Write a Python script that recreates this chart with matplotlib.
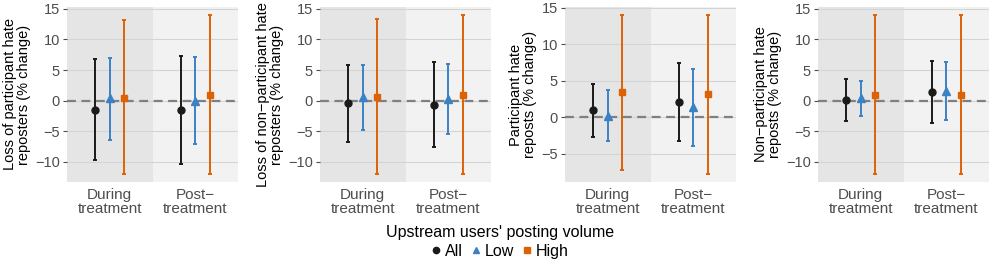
import numpy as np
import matplotlib.pyplot as plt
from matplotlib.lines import Line2D

plt.rcParams['font.family'] = ['Liberation Sans', 'DejaVu Sans']

periods = ["During\ntreatment", "Post\u2212\ntreatment"]
groups = ["All", "Low", "High"]
ylabels = [
    "Loss of participant hate\nreposters (% change)",
    "Loss of non\u2212participant hate\nreposters (% change)",
    "Participant hate\nreposts (% change)",
    "Non\u2212participant hate\nreposts (% change)",
]

# estimates [panel][group][period]
est = [
    [[-1.5, -1.5], [0.45, 0.0], [0.5, 1.0]],
    [[-0.4, -0.7], [0.55, 0.3], [0.6, 1.0]],
    [[1.0, 2.1], [0.2, 1.35], [3.5, 3.15]],
    [[0.1, 1.4], [0.45, 1.65], [0.95, 0.95]],
]
lower = [
    [[-9.7, -10.3], [-6.4, -7.1], [-12.0, -12.0]],
    [[-6.7, -7.5], [-4.8, -5.4], [-12.0, -12.0]],
    [[-2.7, -3.3], [-3.3, -4.0], [-7.2, -7.8]],
    [[-3.3, -3.6], [-2.5, -3.2], [-12.0, -12.0]],
]
upper = [
    [[6.8, 7.3], [7.0, 7.1], [13.1, 14.0]],
    [[5.9, 6.3], [5.9, 6.0], [13.3, 14.0]],
    [[4.6, 7.4], [3.7, 6.6], [14.0, 14.0]],
    [[3.6, 6.4], [3.2, 6.3], [14.0, 14.0]],
]

colors = ["#1a1a1a", "#3b82c4", "#dd6205"]
markers = ["o", "^", "s"]
msizes = [5, 5.5, 5]
offsets = [-0.167, 0.0, 0.167]
yticks = [[-10, -5, 0, 5, 10, 15]] * 2 + [[-5, 0, 5, 10, 15]] + [[-10, -5, 0, 5, 10, 15]]

W, H = 996, 270
fig = plt.figure(figsize=(W / 100, H / 100), dpi=100)
lefts = [67, 320, 565, 818]
width = 171
top, bottom = 7, 182

for p in range(4):
    ax = fig.add_axes([lefts[p] / W, 1 - bottom / H, width / W, (bottom - top) / H])
    ax.axvspan(0.5, 1.5, color="#e5e5e5", zorder=0, lw=0)
    ax.axvspan(1.5, 2.5, color="#f2f2f2", zorder=0, lw=0)
    for t in yticks[p]:
        ax.axhline(t, color="#d4d4d4", lw=0.8, zorder=1)
    ax.axhline(0, color="#7f7f7f", lw=1.6, ls=(0, (4, 2.5)), zorder=2)
    for g in range(3):
        x = np.arange(1, 3) + offsets[g]
        y = np.array(est[p][g])
        lo = y - np.array(lower[p][g])
        hi = np.array(upper[p][g]) - y
        ax.errorbar(x, y, yerr=[lo, hi], fmt=markers[g], color=colors[g],
                    ms=msizes[g], elinewidth=1.4, capsize=1.5,
                    capthick=1.4, zorder=3)
    lo_all = min(min(l) for l in lower[p])
    hi_all = max(max(u) for u in upper[p])
    pad = (hi_all - lo_all) * 0.05
    ax.set_ylim(lo_all - pad, hi_all + pad)
    ax.set_xlim(0.5, 2.5)
    ax.set_yticks(yticks[p])
    ax.set_xticks([1, 2])
    ax.set_xticklabels(periods, fontsize=11, color="#4d4d4d", linespacing=1.05)
    ax.tick_params(axis="y", labelsize=10.5, colors="#4d4d4d", length=3, width=0.8, pad=2)
    ax.tick_params(axis="x", length=0, pad=4)
    ax.set_ylabel(ylabels[p], fontsize=10.5, linespacing=1.0, labelpad=3)
    for s in ax.spines.values():
        s.set_visible(False)

handles = [Line2D([], [], ls="none", marker=markers[g], color=colors[g], ms=4.5)
           for g in range(3)]
leg = fig.legend(handles, groups, title="Upstream users' posting volume", ncol=3,
                 loc="center", bbox_to_anchor=(500 / W, 1 - 242 / H), frameon=False,
                 fontsize=11.5, title_fontsize=11.5, handlelength=0.6,
                 handletextpad=0.25, columnspacing=0.5, borderpad=0, labelspacing=0)
leg.get_title().set_linespacing(1.0)
leg._legend_box.sep = 3

fig.savefig("out.png", dpi=100)
